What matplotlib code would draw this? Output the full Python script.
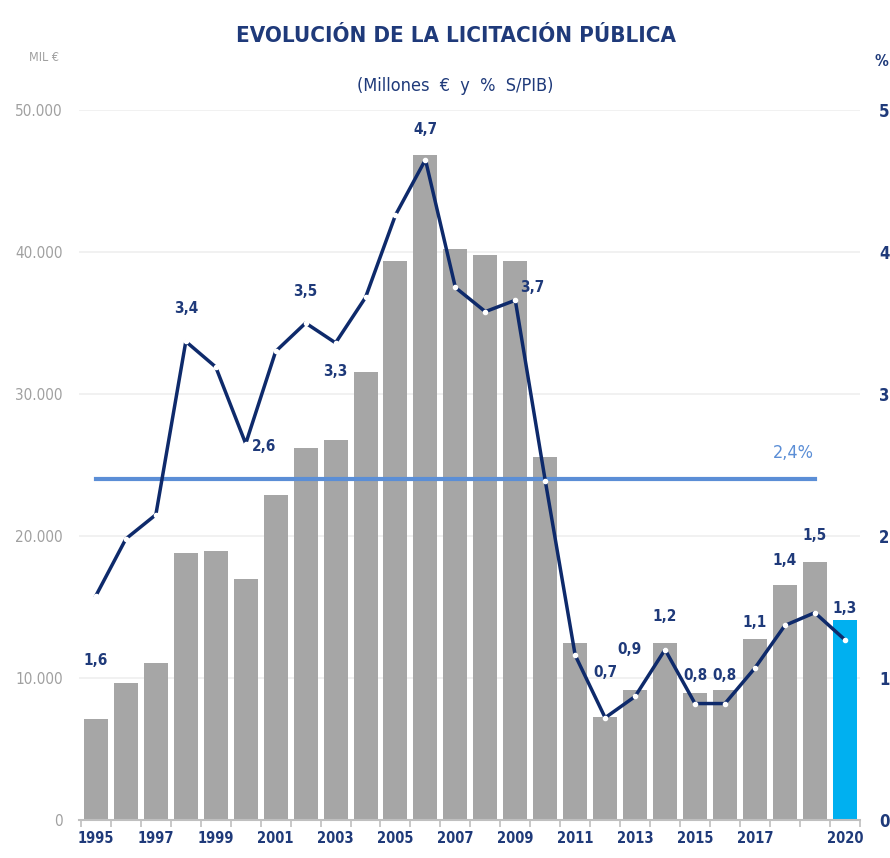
import matplotlib.pyplot as plt
from matplotlib.ticker import FuncFormatter

# Datos
years = list(range(1995, 2021))
licitacion = [7100, 9650, 11050, 18800, 18950, 16950, 22900, 26200, 26750, 31550,
              39350, 46850, 40200, 39800, 39350, 25550, 12450, 7250, 9150, 12450,
              8950, 9150, 12750, 16550, 18150, 14100]
pct_pib = [1.58, 1.98, 2.15, 3.37, 3.19, 2.65, 3.30, 3.50, 3.36, 3.68,
           4.26, 4.65, 3.75, 3.58, 3.66, 2.39, 1.16, 0.72, 0.87, 1.20,
           0.82, 0.82, 1.07, 1.37, 1.46, 1.27]
etiquetas = {1995: '1,6', 1998: '3,4', 2000: '2,6', 2002: '3,5', 2003: '3,3',
             2006: '4,7', 2009: '3,7', 2012: '0,7', 2013: '0,9', 2014: '1,2',
             2015: '0,8', 2016: '0,8', 2017: '1,1', 2018: '1,4', 2019: '1,5',
             2020: '1,3'}
media = 2.4
xlabels = ['1995', '1997', '1999', '2001', '2003', '2005', '2007', '2009',
           '2011', '2013', '2015', '2017', '2020']

navy = '#1F3A7A'
line_col = '#0E2A6B'
gray_txt = '#A0A0A0'
plt.rcParams['font.family'] = ['DejaVu Sans']
plt.rcParams['font.stretch'] = 'condensed'
cond = dict(fontstretch='condensed')

fig = plt.figure(figsize=(8.9, 8.58), dpi=100)
ax = fig.add_axes([0.0893, 0.0443, 0.8767, 0.8275])
x = list(range(len(years)))

colors = ['#A6A6A6'] * (len(years) - 1) + ['#00B0F0']
ax.bar(x, licitacion, width=0.8, color=colors, zorder=2)
ax.set_ylim(0, 50000)
ax.set_xlim(-0.55, 25.5)
ax.set_yticks(range(0, 50001, 10000))
ax.yaxis.set_major_formatter(FuncFormatter(lambda v, p: f'{int(v):,}'.replace(',', '.')))
ax.tick_params(axis='y', length=0, pad=12, labelsize=11, labelcolor=gray_txt)
ax.grid(axis='y', color='#EFEFEF', linewidth=1.2, zorder=0)
for s in ['top', 'left', 'right']:
    ax.spines[s].set_visible(False)
ax.spines['bottom'].set_color('#BFBFBF')
ax.spines['bottom'].set_linewidth(1.5)

tick_pos = [years.index(int(l)) for l in xlabels]
ax.set_xticks(tick_pos)
ax.set_xticklabels(xlabels, color=navy, fontsize=10.5, fontweight='bold')
ax.set_xticks([i - 0.5 for i in range(len(years) + 1)], minor=True)
ax.tick_params(axis='x', which='major', length=0, pad=8)
ax.tick_params(axis='x', which='minor', length=5, color='#BFBFBF', width=1.2)

ax2 = ax.twinx()
ax2.set_ylim(0, 5)
ax2.set_yticks(range(0, 6))
ax2.tick_params(axis='y', length=0, pad=14, labelsize=12, labelcolor=navy)
for lab in ax2.get_yticklabels():
    lab.set_fontweight('bold')
for s in ax2.spines.values():
    s.set_visible(False)

ax2.plot([0, 24], [media, media], color='#5B8ED6', linewidth=3, zorder=3)
ax2.text(23.3, media + 0.12, '2,4%', color='#5B8ED6', fontsize=13, ha='center', va='bottom', **cond)

ax2.plot(x, pct_pib, color=line_col, linewidth=2.5, marker='o', markersize=3,
         markerfacecolor='white', markeredgecolor='white', zorder=4)

offsets = {1995: (0, -0.46), 1998: (0, 0.23), 2000: (0.6, -0.02), 2002: (0, 0.22),
           2003: (0, -0.2), 2006: (0, 0.21), 2009: (0.55, 0.09), 2012: (0, 0.32),
           2013: (-0.2, 0.33), 2014: (0, 0.23), 2015: (0, 0.2), 2016: (0, 0.2),
           2017: (0, 0.32), 2018: (0, 0.46), 2019: (0, 0.54), 2020: (0, 0.22)}
for yr, lab in etiquetas.items():
    i = years.index(yr)
    dx, dy = offsets[yr]
    ax2.text(i + dx, pct_pib[i] + dy, lab, color=navy, fontsize=11, fontweight='bold',
             ha='center', va='center', zorder=5, **cond)

fig.text(0.512, 0.958, 'EVOLUCIÓN DE LA LICITACIÓN PÚBLICA', color=navy, fontsize=16,
         fontweight='bold', ha='center', va='center', **cond)
fig.text(0.512, 0.9, '(Millones  €  y  %  S/PIB)', color=navy, fontsize=13,
         ha='center', va='center', **cond)
fig.text(0.049, 0.933, 'MIL €', color=gray_txt, fontsize=9, ha='center', va='center', **cond)
fig.text(0.99, 0.928, '%', color=navy, fontsize=11, fontweight='bold', ha='center', va='center')

fig.savefig('out.png', dpi=100)
